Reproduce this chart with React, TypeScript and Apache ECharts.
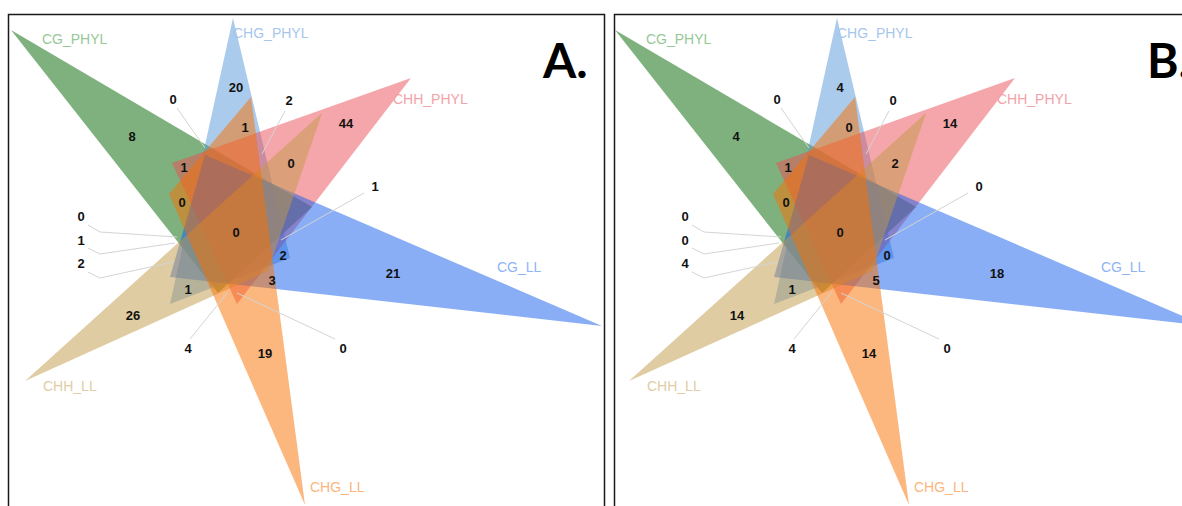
import React, { useEffect, useRef } from "react";
import * as echarts from "echarts";

// ---- Sets (order = drawing order) ----
const setNames = ["CG_PHYL", "CHG_PHYL", "CHH_PHYL", "CG_LL", "CHH_LL", "CHG_LL"];
const setFill = ["#006400", "#5597d7", "#eb4d55", "#135deb", "#c19947", "#f96f00"];
const setTextColor = ["#96c896", "#a6c6ec", "#f2a2a8", "#8fb3f7", "#e0cca6", "#fbb57c"];

// triangle vertices in diagram units (far tip first)
const cgPhylTriangle = [[3, 16], [304, 193], [210, 279]];
const chgPhylTriangle = [[225, 4], [162, 290], [282, 244]];
const chhPhylTriangle = [[403, 64], [164, 149], [229, 290]];
const cgLlTriangle = [[594, 312], [197, 141], [162, 263]];
const chhLlTriangle = [[17, 367], [314, 99], [260, 257]];
const chgLlTriangle = [[297, 491], [243, 83], [161, 180]];
const triangles = [cgPhylTriangle, chgPhylTriangle, chhPhylTriangle, cgLlTriangle, chhLlTriangle, chgLlTriangle];

// set-name label anchors (left, middle)
const setLabelAnchors = [[34, 25], [225, 19], [385, 85], [489, 253], [35, 372], [302, 473]];

// region count anchors (shared by both panels)
const regionAnchors = [
  [124, 122], [228, 73], [165, 85], [281, 86], [237, 113], [338, 109],
  [283, 149], [176, 153], [174, 188], [367, 172], [228, 218], [275, 241],
  [264, 266], [385, 259], [180, 275], [125, 301], [180, 334], [257, 339],
  [335, 334], [73, 202], [73, 226], [73, 249],
];
const countsA = [8, 20, 0, 2, 1, 44, 0, 1, 0, 1, 0, 2, 3, 21, 1, 26, 4, 19, 0, 0, 1, 2];
const countsB = [4, 4, 0, 0, 0, 14, 2, 1, 0, 0, 0, 0, 5, 18, 1, 14, 4, 14, 0, 0, 0, 4];

// leader lines for tiny regions
const leaderLines = [
  [[169, 94], [197, 134]],
  [[277, 97], [254, 140]],
  [[356, 179], [273, 226]],
  [[182, 325], [220, 278]],
  [[327, 325], [229, 279]],
  [[80, 211], [92, 218], [169, 223]],
  [[80, 234], [92, 240], [167, 229]],
  [[80, 258], [92, 264], [165, 248]],
];

const panelTitles = ["A.", "B."];

function panelSeries(idx: number, counts: number[]) {
  const base = { xAxisIndex: idx, yAxisIndex: idx, silent: true };
  return [
    {
      ...base,
      type: "custom",
      coordinateSystem: "cartesian2d",
      clip: false,
      data: triangles.map((t) => t.flat()),
      encode: { x: [0, 2, 4], y: [1, 3, 5] },
      renderItem: (params: any, api: any) => {
        const pts = [0, 1, 2].map((k) => api.coord([api.value(2 * k), api.value(2 * k + 1)]));
        return {
          type: "polygon",
          shape: { points: pts },
          style: { fill: setFill[params.dataIndex], opacity: 0.5 },
        };
      },
      z: 2,
    },
    {
      ...base,
      type: "custom",
      coordinateSystem: "cartesian2d",
      clip: false,
      data: leaderLines.map((l) => l[0]),
      renderItem: (params: any, api: any) => {
        const pts = leaderLines[params.dataIndex].map((p) => api.coord(p));
        return {
          type: "polyline",
          shape: { points: pts },
          style: { stroke: "#d4d4d4", lineWidth: 1, fill: null },
        };
      },
      z: 3,
    },
    {
      ...base,
      type: "custom",
      coordinateSystem: "cartesian2d",
      clip: false,
      data: regionAnchors.map((p, i) => [p[0], p[1], counts[i]]),
      renderItem: (params: any, api: any) => {
        const pt = api.coord([api.value(0), api.value(1)]);
        return {
          type: "text",
          x: pt[0],
          y: pt[1],
          style: {
            text: String(api.value(2)),
            fill: "#111",
            font: "bold 13px 'Liberation Sans', Arial, sans-serif",
            align: "center",
            verticalAlign: "middle",
          },
        };
      },
      z: 4,
    },
    {
      ...base,
      type: "custom",
      coordinateSystem: "cartesian2d",
      clip: false,
      data: setLabelAnchors.map((p) => [p[0], p[1]]),
      renderItem: (params: any, api: any) => {
        const pt = api.coord([api.value(0), api.value(1)]);
        return {
          type: "text",
          x: pt[0],
          y: pt[1],
          style: {
            text: setNames[params.dataIndex],
            fill: setTextColor[params.dataIndex],
            font: "14px 'Liberation Sans', Arial, sans-serif",
            align: "left",
            verticalAlign: "middle",
          },
        };
      },
      z: 4,
    },
  ];
}

export default function App() {
  const ref = useRef<HTMLDivElement>(null);
  useEffect(() => {
    if (!ref.current) return;
    const chart = echarts.init(ref.current, null, { renderer: "svg" });
    const grids = [
      { left: 8, top: 14, width: 597, height: 492 },
      { left: 612, top: 14, width: 570, height: 492 },
    ].map((g) => ({ ...g, show: false, containLabel: false }));
    const axisCommon = { type: "value", show: false, min: 0 };
    chart.setOption({
      animation: false,
      backgroundColor: "#ffffff",
      title: panelTitles.map((t, i) => ({
        text: t,
        left: i === 0 ? 538 : 1142,
        top: 30,
        textStyle: { fontSize: 48, fontWeight: "bold", fontFamily: "Lato, 'Open Sans', sans-serif", color: "#000" },
      })),
      graphic: [
        { type: "rect", shape: { x: 8.5, y: 14.5, width: 596, height: 520 }, style: { fill: "none", stroke: "#1a1a1a", lineWidth: 1.5 }, z: 10, silent: true },
        { type: "rect", shape: { x: 614.5, y: 14.5, width: 600, height: 520 }, style: { fill: "none", stroke: "#1a1a1a", lineWidth: 1.5 }, z: 10, silent: true },
      ],
      grid: grids,
      xAxis: [597, 570].map((m, i) => ({ ...axisCommon, gridIndex: i, max: m })),
      yAxis: [0, 1].map((i) => ({ ...axisCommon, gridIndex: i, max: 492, inverse: true })),
      series: [...panelSeries(0, countsA), ...panelSeries(1, countsB)],
    });
    return () => chart.dispose();
  }, []);
  return <div ref={ref} style={{ position: "fixed", left: 0, top: 0, width: 1182, height: 506, background: "#fff" }} />;
}
